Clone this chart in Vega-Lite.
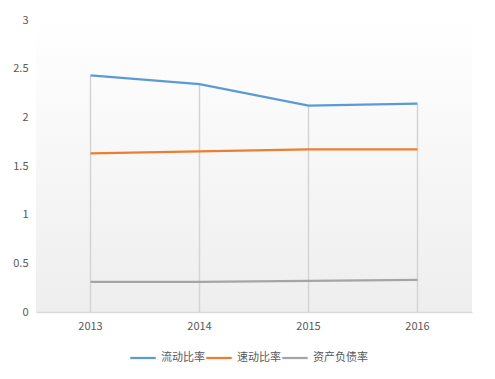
{
  "$schema": "https://vega.github.io/schema/vega-lite/v6.json",
  "width": 436,
  "height": 292,
  "autosize": "none",
  "padding": {"left": 36, "top": 20, "right": 23, "bottom": 67},
  "background": "#ffffff",
  "view": {
    "stroke": null,
    "fill": {"gradient": "linear", "x1": 0, "y1": 0, "x2": 0, "y2": 1,
      "stops": [{"offset": 0, "color": "#ffffff"}, {"offset": 1, "color": "#eeeeee"}]}
  },
  "config": {
    "font": "Noto Sans CJK SC",
    "axis": {"labelColor": "#595959", "labelFontSize": 11, "grid": false, "ticks": false, "title": null},
    "legend": {"labelColor": "#595959", "labelFontSize": 11}
  },
  "data": {
    "values": [
      {"year": "2013", "series": "流动比率", "value": 2.43},
      {"year": "2014", "series": "流动比率", "value": 2.34},
      {"year": "2015", "series": "流动比率", "value": 2.12},
      {"year": "2016", "series": "流动比率", "value": 2.14},
      {"year": "2013", "series": "速动比率", "value": 1.63},
      {"year": "2014", "series": "速动比率", "value": 1.65},
      {"year": "2015", "series": "速动比率", "value": 1.67},
      {"year": "2016", "series": "速动比率", "value": 1.67},
      {"year": "2013", "series": "资产负债率", "value": 0.31},
      {"year": "2014", "series": "资产负债率", "value": 0.31},
      {"year": "2015", "series": "资产负债率", "value": 0.32},
      {"year": "2016", "series": "资产负债率", "value": 0.33}
    ]
  },
  "encoding": {
    "x": {"field": "year", "type": "ordinal",
      "axis": {"labelAngle": 0, "domainColor": "#d9d9d9", "domainWidth": 1.5, "labelPadding": 8}}
  },
  "layer": [
    {
      "transform": [{"filter": "datum.series === '流动比率'"}],
      "mark": {"type": "rule", "color": "#d4d4d4", "strokeWidth": 1.5},
      "encoding": {
        "y": {"field": "value", "type": "quantitative"},
        "y2": {"datum": 0}
      }
    },
    {
      "mark": {"type": "line", "strokeWidth": 2.25},
      "encoding": {
        "y": {"field": "value", "type": "quantitative",
          "scale": {"domain": [0, 3], "nice": false},
          "axis": {"values": [0, 0.5, 1, 1.5, 2, 2.5, 3], "format": "~g", "domain": false, "labelPadding": 8}},
        "color": {"field": "series", "type": "nominal",
          "scale": {"domain": ["流动比率", "速动比率", "资产负债率"], "range": ["#5b9bd5", "#ed7d31", "#a5a5a5"]},
          "legend": {"orient": "none", "legendX": 93, "legendY": 324, "direction": "horizontal", "title": null, "symbolType": "stroke",
            "symbolSize": 650, "symbolStrokeWidth": 2.25, "columnPadding": -5, "labelOffset": 4}}
      }
    }
  ]
}
